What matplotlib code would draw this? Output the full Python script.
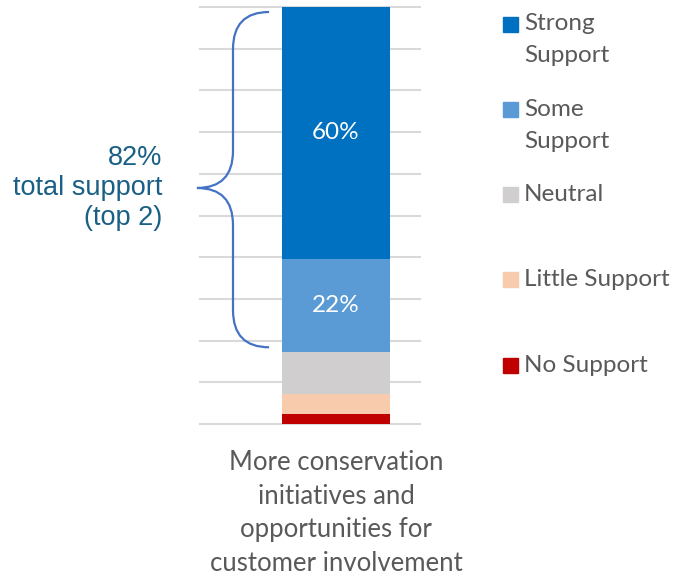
import matplotlib
matplotlib.use("Agg")
import matplotlib.pyplot as plt
from matplotlib.patches import Rectangle, PathPatch
from matplotlib.path import Path
import matplotlib.transforms as mtransforms

# data, bottom to top
levels = ["No Support", "Little Support", "Neutral", "Some\nSupport", "Strong\nSupport"]
values = [2.3, 5.0, 9.9, 22.4, 60.4]
colors = ["#C00000", "#F8CBAD", "#D0CECE", "#5B9BD5", "#0070C0"]
category = "More conservation\ninitiatives and\nopportunities for\ncustomer involvement"
top2_text = "82%\ntotal support\n(top 2)"

W, H = 677, 576
TXT = "#595959"


def fx(x):
    return x / W


def fy(y):
    return 1 - y / H


fig = plt.figure(figsize=(W / 100, H / 100), dpi=100)
ax = fig.add_axes([fx(200), fy(424), 220 / W, 417 / H])
ax.set_xlim(-0.618, 0.382)
ax.set_ylim(0, 100)
for s in ax.spines.values():
    s.set_visible(False)
ax.set_yticks([])

# gridlines
for g in range(0, 101, 10):
    ax.axhline(g, color="#D9D9D9", lw=1.5, zorder=0, clip_on=False)

bottom = 0
for name, v, c in zip(levels, values, colors):
    bars = ax.bar(0, v, bottom=bottom, width=0.495, color=c, zorder=2)
    lab = "{:.0f}%".format(v) if v > 15 else ""
    ax.bar_label(bars, labels=[lab], label_type="center", color="white",
                 fontsize=17.5, family="Lato")
    bottom += v

ax.set_xticks([0])
ax.set_xticklabels([category], fontsize=18.5, color=TXT, family="Lato",
                   linespacing=1.42)
ax.tick_params(axis="x", length=0, pad=19)

# brace around top 2
top2 = values[-1] + values[-2]
y_hi = 100 - 1.2
y_lo = 100 - top2 + 1.2
y_mid = (y_hi + y_lo) / 2 - 2
r = 8.9
xe, xv, xt = 0.314, 0.15, -0.014
verts = [(xe, y_hi), (xv, y_hi), (xv, y_hi - r),
         (xv, y_mid + r),
         (xv, y_mid), (xt, y_mid),
         (xv, y_mid), (xv, y_mid - r),
         (xv, y_lo + r),
         (xv, y_lo), (xe, y_lo)]
codes = [Path.MOVETO, Path.CURVE3, Path.CURVE3,
         Path.LINETO,
         Path.CURVE3, Path.CURVE3,
         Path.CURVE3, Path.CURVE3,
         Path.LINETO,
         Path.CURVE3, Path.CURVE3]
trans = mtransforms.blended_transform_factory(ax.transAxes, ax.transData)
ax.add_patch(PathPatch(Path(verts, codes), facecolor="none", edgecolor="#4472C4",
                       lw=1.6, transform=trans, clip_on=False, zorder=3))
ax.text(-0.173, y_mid, top2_text, transform=trans, ha="right", va="center",
        multialignment="right", fontsize=19.5, color="#1A5F85",
        family="Liberation Sans", linespacing=1.2)

# legend, top to bottom
for i, (name, c) in enumerate(zip(levels[::-1], colors[::-1])):
    yc = 24 + i * 85.3
    fig.add_artist(Rectangle((fx(503), fy(yc + 7.5)), 15 / W, 15 / H,
                             transform=fig.transFigure, color=c))
    for j, line in enumerate(name.split("\n")):
        fig.text(fx(524), fy(yc + j * 32), line, ha="left", va="center",
                 fontsize=17.5, color=TXT, family="Lato")

fig.savefig("out.png", dpi=100)
